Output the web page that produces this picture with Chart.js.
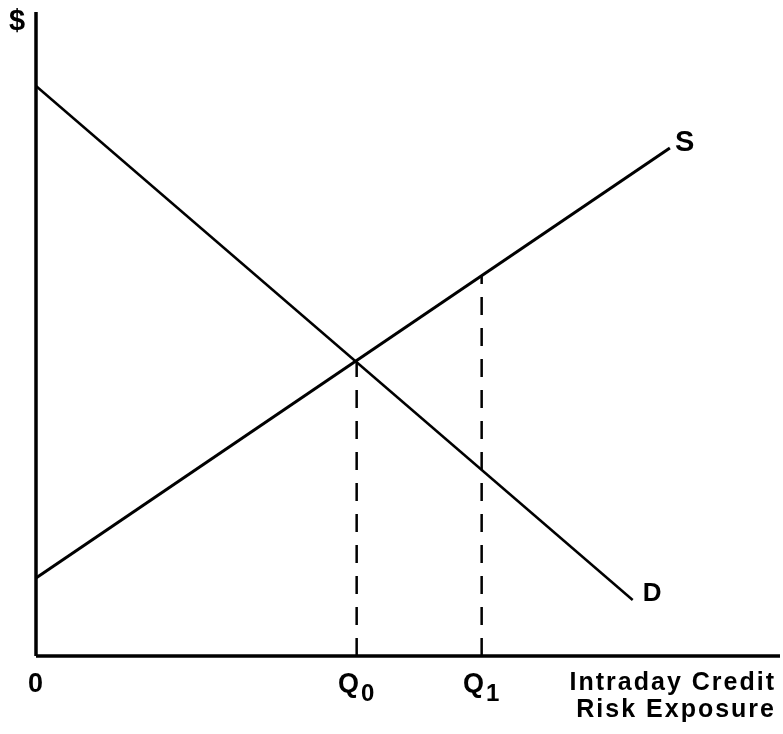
<!DOCTYPE html>
<html>
<head>
<meta charset="utf-8">
<script src="https://cdn.jsdelivr.net/npm/chart.js@4/dist/chart.umd.min.js"></script>
<style>
  html, body { margin: 0; padding: 0; background: #fff; }
  #wrap { width: 783px; height: 734px; }
</style>
</head>
<body>
<div id="wrap"><canvas id="myChart"></canvas></div>
<script>
// quantity on x (0..100), price on y (0..100)
var supplyX = [0, 85.2];
var supplyY = [12.1, 78.9];
var demandX = [0, 80.2];
var demandY = [88.5, 8.7];

var q0 = 43.1, q1 = 59.9;
var q0Price = 45.7;   // equilibrium
var q1Price = 59.1;   // on supply at Q1

var tickValues = [0, q0, q1];
var tickLabels = ['0', 'Q|0', 'Q|1'];   // "|" marks a subscript
var curveNames = ['S', 'D'];
var yAxisTitle = '$';
var xAxisTitle = ['Intraday Credit', 'Risk Exposure'];

function pts(xs, ys) {
    return xs.map(function (x, i) { return { x: x, y: ys[i] }; });
}

var ink = '#000';
var face = '"Liberation Sans", Arial, sans-serif';

var labelPlugin = {
    id: 'labels',
    afterDraw: function (chart) {
        var ctx = chart.ctx;
        var xs = chart.scales.x, ys = chart.scales.y;
        ctx.save();
        ctx.fillStyle = ink;
        ctx.textBaseline = 'alphabetic';
        ctx.letterSpacing = '1px';

        // tick labels under the axis
        var base = ys.getPixelForValue(0) + 36;
        tickValues.forEach(function (v, i) {
            var parts = tickLabels[i].split('|');
            ctx.font = 'bold 27px ' + face;
            var w1 = ctx.measureText(parts[0]).width;
            var w2 = 0;
            if (parts[1]) {
                ctx.font = 'bold 24px ' + face;
                w2 = ctx.measureText(parts[1]).width + 1;
            }
            var left = xs.getPixelForValue(v) - (w1 + w2) / 2;
            ctx.font = 'bold 27px ' + face;
            ctx.textAlign = 'left';
            ctx.fillText(parts[0], left, base);
            if (parts[1]) {
                ctx.font = 'bold 24px ' + face;
                ctx.fillText(parts[1], left + w1 + 1, base + 9);
            }
        });

        // curve names at line ends
        ctx.textAlign = 'left';
        ctx.font = 'bold 29px ' + face;
        ctx.fillText(curveNames[0], xs.getPixelForValue(supplyX[1]) + 5, ys.getPixelForValue(supplyY[1]) + 3);
        ctx.font = 'bold 26px ' + face;
        ctx.fillText(curveNames[1], xs.getPixelForValue(demandX[1]) + 10, ys.getPixelForValue(demandY[1]) + 1);

        // axis titles
        ctx.letterSpacing = '0px';
        ctx.font = 'bold 29px ' + face;
        ctx.textAlign = 'center';
        ctx.fillText(yAxisTitle, 17, 30);
        ctx.letterSpacing = '2px';
        ctx.font = 'bold 25px ' + face;
        ctx.textAlign = 'right';
        ctx.fillText(xAxisTitle[0], 776, 690);
        ctx.fillText(xAxisTitle[1], 776, 717);
        ctx.restore();
    }
};

var solid = { borderColor: ink, borderWidth: 3, pointRadius: 0, fill: false, clip: false, tension: 0 };
var dashed = { borderColor: ink, borderWidth: 2.5, borderDash: [18, 13], pointRadius: 0, fill: false, clip: false };

new Chart('myChart', {
    type: 'line',
    data: {
        datasets: [
            Object.assign({ label: 'y axis', data: pts([0, 0], [0, 100]) }, solid, { borderWidth: 3.5 }),
            Object.assign({ label: 'x axis', data: pts([0, 100], [0, 0]) }, solid, { borderWidth: 3.5 }),
            Object.assign({ label: 'Supply', data: pts(supplyX, supplyY) }, solid),
            Object.assign({ label: 'Demand', data: pts(demandX, demandY) }, solid, { borderWidth: 2.5 }),
            Object.assign({ label: 'Q0', data: pts([q0, q0], [0, q0Price]) }, dashed),
            Object.assign({ label: 'Q1', data: pts([q1, q1], [0, q1Price]) }, dashed)
        ]
    },
    options: {
        responsive: true,
        maintainAspectRatio: false,
        animation: false,
        layout: { padding: { left: 36, right: 3, top: 12, bottom: 78 } },
        plugins: { legend: { display: false }, tooltip: { enabled: false } },
        scales: {
            x: { type: 'linear', min: 0, max: 100, display: false },
            y: { type: 'linear', min: 0, max: 100, display: false }
        }
    },
    plugins: [labelPlugin]
});
</script>
</body>
</html>
